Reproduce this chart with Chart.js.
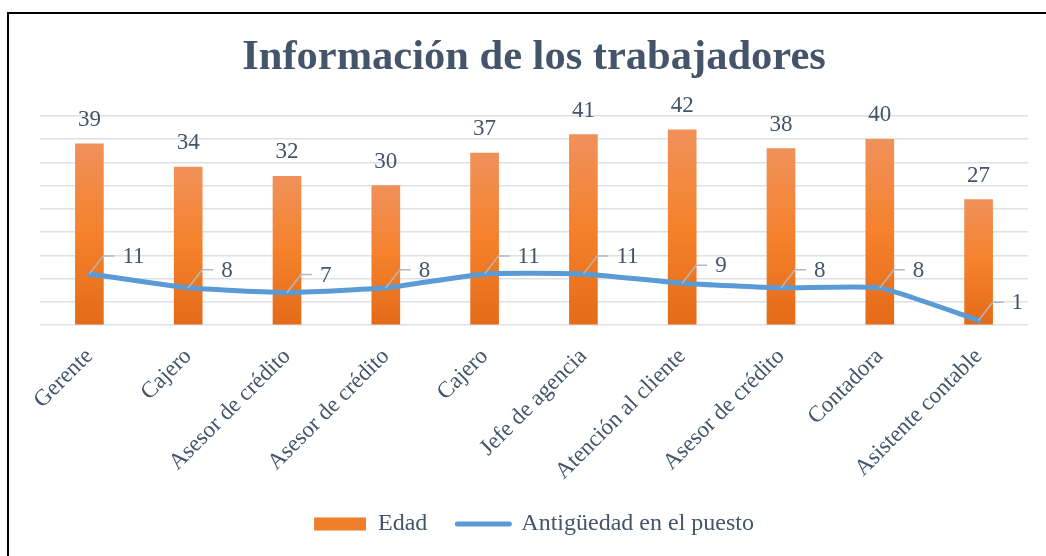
<!DOCTYPE html>
<html>
<head>
<meta charset="utf-8">
<title>Información de los trabajadores</title>
<script src="https://cdn.jsdelivr.net/npm/chart.js@4"></script>
<style>
  body { margin: 0; background: #fff; }
  #wrap { position: relative; width: 1046px; height: 556px; }
  #frame {
    position: absolute; left: 7px; top: 12px; width: 1038px; height: 560px;
    border-top: 2px solid #000; border-left: 2px solid #000;
    pointer-events: none;
  }
  canvas { position: absolute; left: 0; top: 0; }
</style>
</head>
<body>
<div id="wrap">
  <canvas id="chart" width="1046" height="556"></canvas>
  <div id="frame"></div>
</div>
<script>
// Data
const puestos = ["Gerente", "Cajero", "Asesor de crédito", "Asesor de crédito", "Cajero",
                 "Jefe de agencia", "Atención al cliente", "Asesor de crédito", "Contadora", "Asistente contable"];
const edad = [39, 34, 32, 30, 37, 41, 42, 38, 40, 27];
const antiguedad = [11, 8, 7, 8, 11, 11, 9, 8, 8, 1];

// Styles
const TEXT = "#44546A";
const SERIF = '"Liberation Serif", "Times New Roman", serif';
const ORANGE = "#F07F2C";
const BLUE = "#5B9BD5";

// Draws value labels: above bars, and with a leader line for the line points
const valueLabels = {
  id: "valueLabels",
  afterDatasetsDraw(chart) {
    const ctx = chart.ctx;
    ctx.save();
    ctx.font = "23px " + SERIF;
    ctx.fillStyle = TEXT;
    ctx.textBaseline = "middle";

    const bars = chart.getDatasetMeta(0).data;
    ctx.textAlign = "center";
    bars.forEach((bar, i) => {
      ctx.fillText(edad[i], bar.x, bar.y - 24);
    });

    const pts = chart.getDatasetMeta(1).data;
    ctx.textAlign = "left";
    ctx.strokeStyle = "#B4B8BE";
    ctx.lineWidth = 1.5;
    pts.forEach((p, i) => {
      ctx.beginPath();
      ctx.moveTo(p.x, p.y);
      ctx.lineTo(p.x + 14, p.y - 18);
      ctx.lineTo(p.x + 25, p.y - 18);
      ctx.stroke();
      ctx.fillText(antiguedad[i], p.x + 33, p.y - 17);
    });
    ctx.restore();
  }
};

function barGradient(c) {
  const chart = c.chart;
  const y = chart.scales.y;
  if (!y || c.type !== "data") return ORANGE;
  const top = y.getPixelForValue(c.raw);
  const base = y.getPixelForValue(0);
  const g = chart.ctx.createLinearGradient(0, top, 0, base);
  g.addColorStop(0, "#F0915A");
  g.addColorStop(0.5, "#F5812B");
  g.addColorStop(1, "#E46B18");
  return g;
}

new Chart(document.getElementById("chart"), {
  data: {
    labels: puestos,
    datasets: [
      {
        type: "bar",
        label: "Edad",
        data: edad,
        backgroundColor: barGradient,
        barThickness: 28,
        order: 1
      },
      {
        type: "line",
        label: "Antigüedad en el puesto",
        data: antiguedad,
        borderColor: BLUE,
        borderWidth: 5,
        borderCapStyle: "round",
        borderJoinStyle: "round",
        tension: 0.15,
        pointRadius: 0,
        pointHoverRadius: 0,
        fill: false,
        order: 0
      }
    ]
  },
  options: {
    responsive: false,
    devicePixelRatio: 1,
    animation: false,
    layout: { padding: { left: 40, right: 18, top: 0, bottom: 10 } },
    plugins: {
      tooltip: { enabled: false },
      title: {
        display: true,
        text: "Información de los trabajadores",
        color: TEXT,
        font: { family: SERIF, size: 42.5, weight: "bold" },
        padding: { top: 33, bottom: 32 }
      },
      legend: {
        position: "bottom",
        labels: {
          usePointStyle: true,
          pointStyleWidth: 52,
          boxHeight: 13,
          padding: 30,
          color: TEXT,
          font: { family: SERIF, size: 24 },
          generateLabels: () => [
            { text: "Edad", fillStyle: ORANGE, strokeStyle: ORANGE, lineWidth: 0,
              pointStyle: "rect", datasetIndex: 0, fontColor: TEXT },
            { text: "Antigüedad en el puesto", fillStyle: BLUE, strokeStyle: BLUE, lineWidth: 5,
              lineCap: "round", pointStyle: "line", datasetIndex: 1, fontColor: TEXT }
          ]
        }
      }
    },
    scales: {
      x: {
        grid: { display: false, drawTicks: false },
        border: { display: false },
        ticks: {
          color: TEXT,
          font: { family: SERIF, size: 23 },
          minRotation: 45,
          maxRotation: 45,
          padding: 18
        },
        afterFit: (s) => { s.height = 157; }
      },
      y: {
        min: 0,
        max: 45,
        ticks: { display: false, stepSize: 5 },
        grid: { color: "#DDE0E5", lineWidth: 1.5, drawTicks: false },
        border: { display: false },
        afterFit: (s) => { s.width = 0; }
      }
    }
  },
  plugins: [valueLabels]
});
</script>
</body>
</html>
